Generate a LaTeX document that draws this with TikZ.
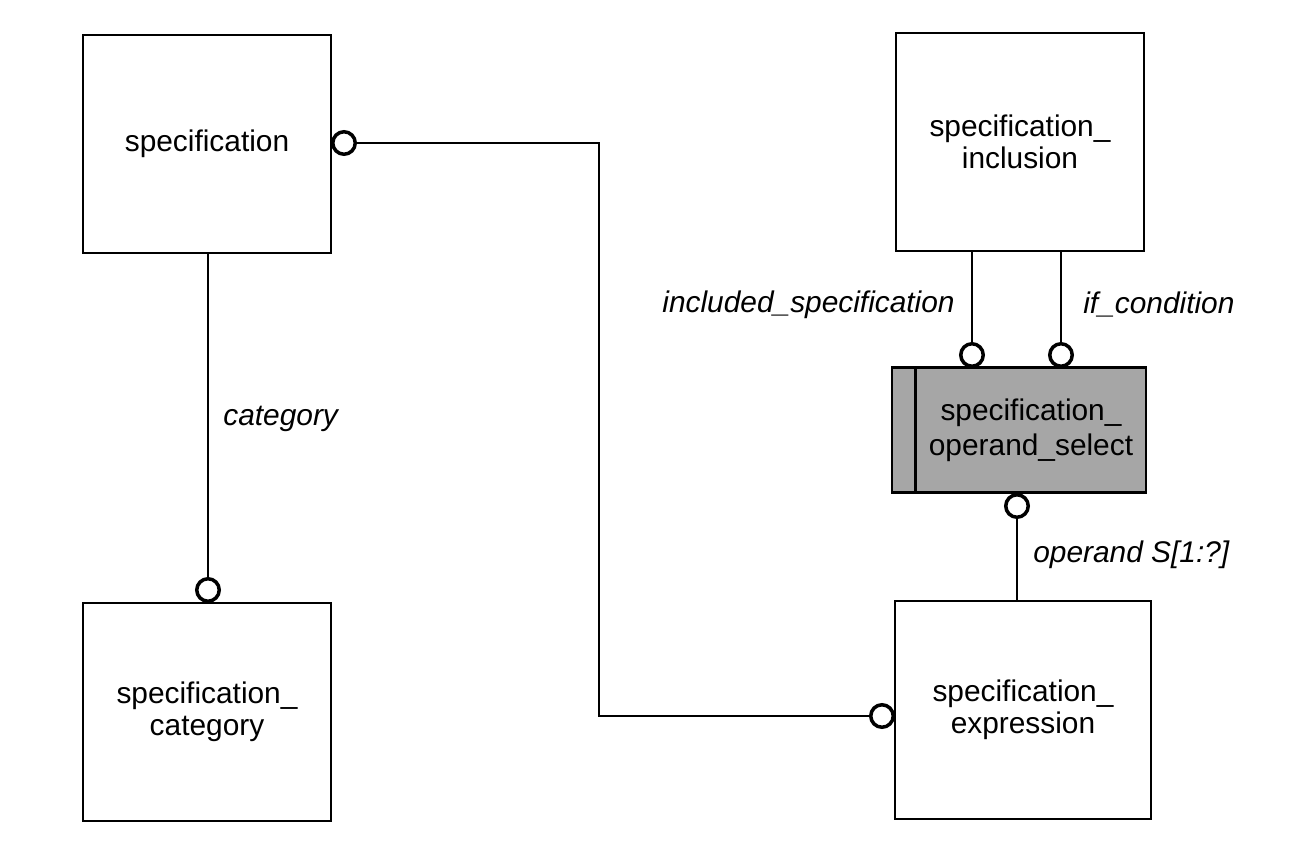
\documentclass[tikz,border=0pt]{standalone}
\usepackage{fontspec}
\setmainfont{Liberation Sans}

\begin{document}
\begin{tikzpicture}[x=0.02cm,y=-0.02cm]
      \tikzstyle{ent}=[rectangle,draw,line width=1.5pt,minimum width=4.96cm,minimum height=4.36cm,inner sep=0pt,align=center,font=\fontsize{17}{18}\selectfont]
      \tikzstyle{sel}=[ent,fill=black!35,minimum width=5.08cm,minimum height=2.5cm,font=\fontsize{17}{20}\selectfont]
      \tikzstyle{ring}=[circle,draw,line width=2pt,fill=white,minimum size=0.45cm,inner sep=0pt]
      \tikzstyle{role}=[font=\itshape\fontsize{17}{18}\selectfont,inner sep=0pt]
      \tikzstyle{link}=[line width=1.1pt]
      \useasboundingbox (0,0) rectangle (1289,848);
      % entities
      \node[ent] (spec) at (207,144) {specification};
      \node[ent] (cat) at (207,712) {specification\_\\category};
      \node[ent] (inc) at (1020,142) {specification\_\\inclusion};
      \node[sel] (opsel) at (1019,430) {\hspace*{0.48cm}specification\_\\\hspace*{0.48cm}operand\_select};
      \node[ent,minimum width=5.12cm] (expr) at (1023,710) {specification\_\\expression};
      \draw[line width=1.5pt] ([xshift=0.5cm]opsel.north west) -- ([xshift=0.5cm]opsel.south west);
      % rings
      \node[ring,anchor=west] (sring) at (331,143) {};
      \node[ring,anchor=south] (cring) at (208,603) {};
      \node[ring,anchor=south] (iring) at (972,368) {};
      \node[ring,anchor=south] (fring) at (1061,368) {};
      \node[ring,anchor=north] (oring) at (1017,493) {};
      \node[ring,anchor=east] (ering) at (895,716) {};
      \coordinate (turn) at (599,143);
      % links
      \draw[link] (cring) -- (cring |- spec.south);
      \draw[link] (sring) -- (turn) |- (ering);
      \draw[link] (iring) -- (iring |- inc.south);
      \draw[link] (fring) -- (fring |- inc.south);
      \draw[link] (oring) -- (oring |- expr.north);
      % roles
      \node[role,anchor=west] (lcat) at (223,419) {category};
      \node[role,anchor=east] (linc) at (955,305) {included\_specification};
      \node[role,anchor=west] (lif) at (1083,305) {if\_condition};
      \node[role,anchor=west] (lop) at (1033,555) {operand S[1:?]};
\end{tikzpicture}
\end{document}
